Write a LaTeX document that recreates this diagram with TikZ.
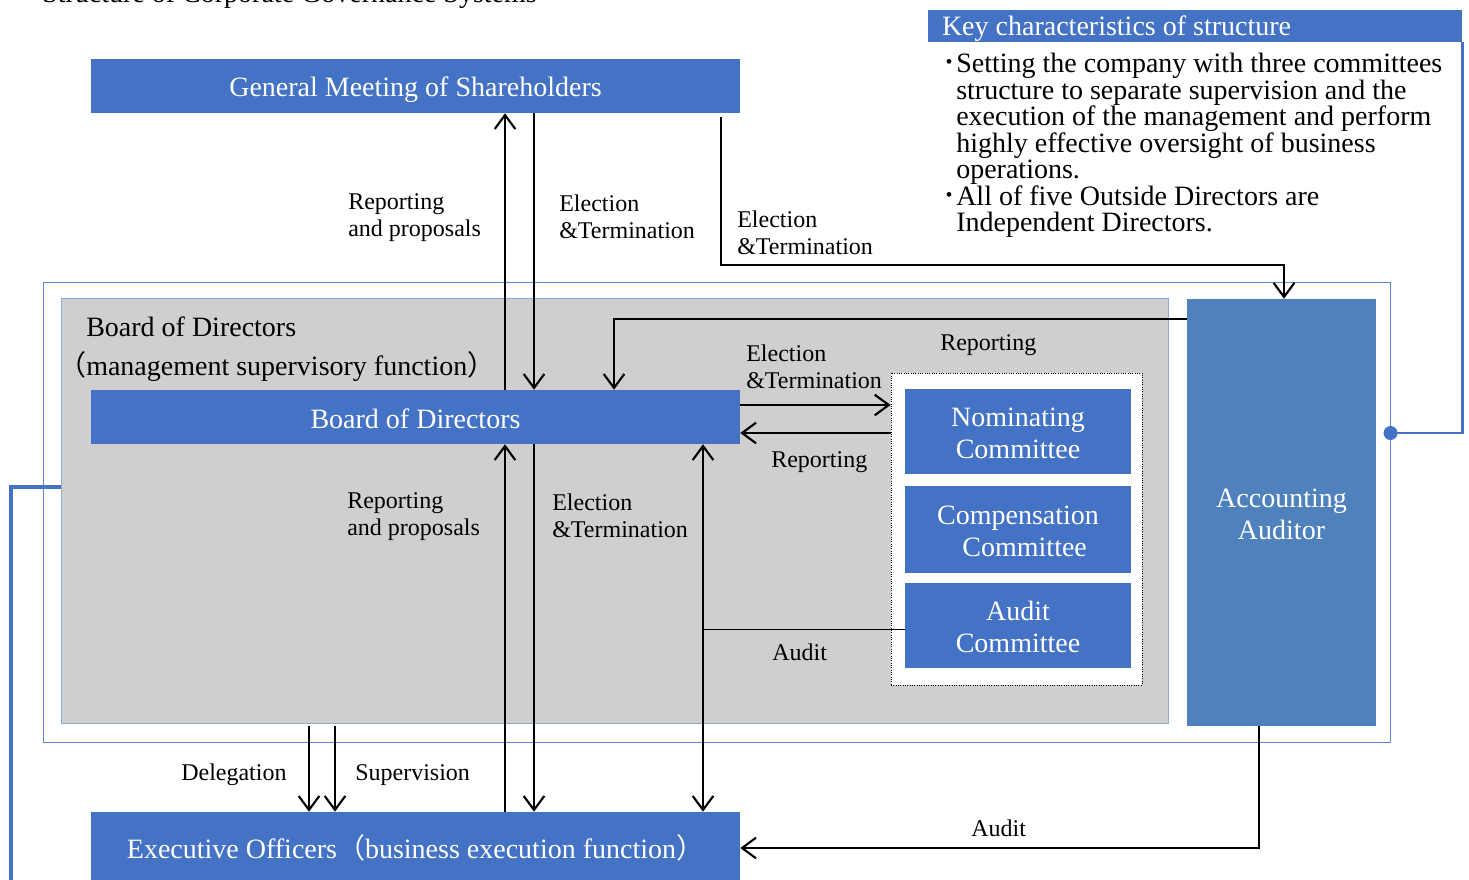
\documentclass[tikz,border=0pt]{standalone}
\usepackage{fontspec}
\setmainfont{Liberation Serif}
\newfontfamily\cjkfont{Noto Sans CJK JP}
\usetikzlibrary{arrows.meta,fit,calc}

\definecolor{boxblue}{HTML}{4472C4}
\definecolor{auditorblue}{HTML}{4F81BD}
\definecolor{panelgrey}{HTML}{D0CECE}
\definecolor{paneledge}{HTML}{8EA9DB}

% full-width parentheses
\newcommand{\fwl}{{\cjkfont （}}
\newcommand{\fwr}{{\cjkfont ）}}
\newcommand{\kbullet}{\llap{\cjkfont ･}}

\begin{document}
\begin{tikzpicture}[x=0.75pt, y=-0.75pt,
  big/.style={font=\fontsize{21}{24}\selectfont},
  small/.style={font=\fontsize{18}{20.25}\selectfont},
  bluebox/.style={fill=boxblue, draw=none, inner sep=0pt},
  boxtext/.style={big, text=white, inner sep=0pt, align=center},
  lbl/.style={small, inner sep=0pt, align=left, anchor=north west},
  plain/.style={big, inner sep=0pt, anchor=base west},
  conn/.style={line width=1.6pt, black},
  arr/.style={conn, -{Straight Barb[length=10.5pt, width=15.5pt]}},
  dblarr/.style={conn, {Straight Barb[length=10.5pt, width=15.5pt]}-{Straight Barb[length=10.5pt, width=15.5pt]}},
]
\useasboundingbox (0,0) rectangle (1469,880);

% heading (partly above the page)
\node[plain] (title) at (42,3) {Structure of Corporate Governance Systems};

% key characteristics call-out
\node[bluebox, fit={(928,10) (1462,42)}] (keyhead) {};
\node[big, text=white, inner sep=0pt, anchor=west] (keyheadtext) at ($(keyhead.west)+(14,3)$) {Key characteristics of structure};
\node[inner sep=0pt, anchor=north west, align=left, font=\fontsize{21}{19.9}\selectfont] (keytext) at (956,53)
  {\kbullet Setting the company with three committees\\
   structure to separate supervision and the\\
   execution of the management and perform\\
   highly effective oversight of business\\
   operations.\\
   \kbullet All of five Outside Directors are\\
   Independent Directors.};

% general meeting
\node[bluebox, fit={(91,59) (740,113)}] (gm) {};
\node[boxtext] (gmtext) at ($(gm.center)+(0,4)$) {General Meeting of Shareholders};

% outer frame and board panel
\node[draw=boxblue!85, line width=0.75pt, inner sep=0pt, fit={(43,283) (1390,742)}] (frame) {};
\node[fill=panelgrey, draw=paneledge, line width=0.75pt, inner sep=0pt, fit={(61,299) (1168,723)}] (panel) {};
\node[plain] (paneltitle) at (86,336) {Board of Directors};
\node[plain] (panelsub) at (58,375) {\fwl management supervisory function\fwr};

\node[bluebox, fit={(91,390) (740,444)}] (bod) {};
\node[boxtext] (bodtext) at ($(bod.center)+(0,2)$) {Board of Directors};

% committees
\node[fill=white, draw=black, densely dotted, line width=0.75pt, inner sep=0pt, fit={(891,373) (1142,685)}] (cbox) {};
\node[bluebox, fit={(905,389) (1131,474)}] (nom) {};
\node[boxtext] (nomtext) at ($(nom.center)+(0,2)$) {Nominating\\Committee};
\node[bluebox, fit={(905,486) (1131,573)}] (comp) {};
\node[boxtext] (comptext) at ($(comp.center)+(0,1.5)$) {Compensation\\\hspace*{10pt}Committee};
\node[bluebox, fit={(905,583) (1131,668)}] (aud) {};
\node[boxtext] (audtext) at ($(aud.center)+(0,1.5)$) {Audit\\Committee};

% accounting auditor
\node[bluebox, fill=auditorblue, fit={(1187,299) (1376,726)}] (acc) {};
\node[boxtext] (acctext) at ($(acc.center)+(0,2)$) {Accounting\\Auditor};

% executive officers
\node[bluebox, fit={(91,812) (740,884)}] (exec) {};
\node[boxtext] (exectext) at (exec.center) {Executive Officers\fwl business execution function\fwr};

% reference columns and rows
\coordinate (c309) at (309,0);
\coordinate (c335) at (335,0);
\coordinate (c505) at (505,0);
\coordinate (c534) at (534,0);
\coordinate (c614) at (614,0);
\coordinate (c703) at (703,0);
\coordinate (c721) at (721,0);
\coordinate (c1259) at (1259,0);
\coordinate (c1284) at (1284,0);
\coordinate (r265) at (0,265);
\coordinate (r319) at (0,319);
\coordinate (r405) at (0,405);
\coordinate (r433) at (0,433);
\coordinate (r487) at (0,487);
\coordinate (r629) at (0,629);
\coordinate (r848) at (0,848);
\coordinate (leftend) at (11,885);

% call-out leader and side bar
\draw[boxblue, line width=2pt] (keyhead.south east) -- (keyhead.south east |- r433) -- (frame.east |- r433);
\fill[boxblue] (frame.east |- r433) circle[radius=5.25pt];
\draw[boxblue, line width=3.5pt] (panel.west |- r487) -| (leftend);

% shareholders <-> board
\draw[arr] (bod.north -| c505) -- (gm.south -| c505);
\draw[arr] (gm.south -| c534) -- (bod.north -| c534);
\draw[arr, shorten <=3pt] (gm.south -| c721) |- (c1284 |- r265) -- (acc.north -| c1284);

% auditor reporting to board
\draw[arr] (acc.west |- r319) -| (bod.north -| c614);

% board <-> committees
\draw[arr] (bod.east |- r405) -- (cbox.west |- r405);
\draw[arr] (cbox.west |- r433) -- (bod.east |- r433);

% board <-> executive officers
\draw[arr] (exec.north -| c505) -- (bod.south -| c505);
\draw[arr] (bod.south -| c534) -- (exec.north -| c534);
\draw[black, line width=0.75pt] (aud.west |- r629) -- (c703 |- r629);
\draw[dblarr] (bod.south -| c703) -- (exec.north -| c703);
\draw[arr, shorten <=2pt] (panel.south -| c309) -- (exec.north -| c309);
\draw[arr, shorten <=2pt] (panel.south -| c335) -- (exec.north -| c335);

% auditor audit of executive officers
\draw[arr] (acc.south -| c1259) |- (exec.east |- r848);

% connector labels
\node[lbl] (l1) at (348,193) {Reporting\\and proposals};
\node[lbl] (l2) at (559,195) {Election\\\&Termination};
\node[lbl] (l3) at (737,211) {Election\\\&Termination};
\node[lbl] (l4) at (940,334) {Reporting};
\node[lbl] (l5) at (746,345) {Election\\\&Termination};
\node[lbl] (l6) at (771,451) {Reporting};
\node[lbl] (l7) at (347,492) {Reporting\\and proposals};
\node[lbl] (l8) at (552,494) {Election\\\&Termination};
\node[lbl] (l9) at (772,644) {Audit};
\node[lbl] (l10) at (181,764) {Delegation};
\node[lbl] (l11) at (355,764) {Supervision};
\node[lbl] (l12) at (971,820) {Audit};
\end{tikzpicture}
\end{document}
